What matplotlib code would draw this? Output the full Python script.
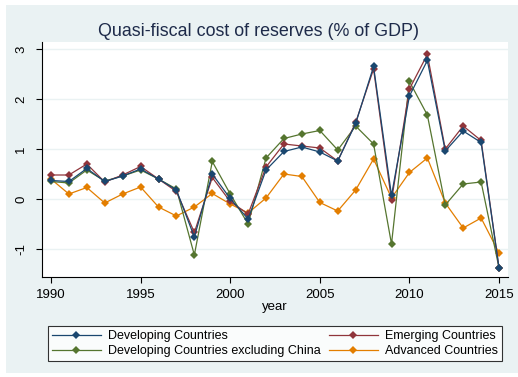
import matplotlib
matplotlib.use("Agg")
import matplotlib.pyplot as plt
from matplotlib.patches import Rectangle

# Data
years = list(range(1990, 2016))
developing = [0.38, 0.36, 0.62, 0.36, 0.47, 0.61, 0.41, 0.19, -0.75, 0.51, 0.02, -0.39,
              0.59, 0.96, 1.05, 0.95, 0.77, 1.52, 2.66, 0.08, 2.07, 2.78, 0.97, 1.37, 1.14, -1.37]
emerging = [0.49, 0.49, 0.71, 0.35, 0.49, 0.66, 0.41, 0.16, -0.66, 0.44, -0.04, -0.29,
            0.65, 1.11, 1.07, 1.03, 0.77, 1.54, 2.61, -0.02, 2.21, 2.90, 1.01, 1.47, 1.18, -1.37]
dev_ex_china = [0.36, 0.33, 0.59, 0.37, 0.47, 0.59, 0.41, 0.21, -1.11, 0.76, 0.11, -0.49,
                0.83, 1.22, 1.31, 1.38, 0.99, 1.47, 1.11, -0.89, 2.36, 1.69, -0.11, 0.31, 0.35, -1.37]
advanced = [0.41, 0.11, 0.24, -0.07, 0.11, 0.25, -0.15, -0.33, -0.15, 0.12, -0.09, -0.27,
            0.03, 0.51, 0.46, -0.06, -0.23, 0.19, 0.81, 0.03, 0.54, 0.83, -0.07, -0.57, -0.37, -1.07]

series_names = ["Developing Countries", "Emerging Countries",
                "Developing Countries excluding China", "Advanced Countries"]
series_colors = ["#1a476f", "#90353b", "#55752f", "#e37e00"]
x_ticks = [1990, 1995, 2000, 2005, 2010, 2015]
y_ticks = [-1, 0, 1, 2, 3]

plt.rcParams['font.family'] = ['Liberation Sans', 'DejaVu Sans']

W, H = 518, 377
bg = "#eaf2f3"
fig = plt.figure(figsize=(W/100, H/100), dpi=100, facecolor="white")
# graph region (thin white margin around it, like the reference)
fig.patches.append(Rectangle((6/W, 4/H), 1 - 6/W, 1 - 9/H, transform=fig.transFigure,
                             facecolor=bg, edgecolor="none", zorder=-10))

ax = fig.add_axes([42/W, 1 - 277/H, (508 - 42)/W, (277 - 42)/H])
ax.set_facecolor("white")

handles = []
for vals, name, col, z in zip([developing, emerging, dev_ex_china, advanced],
                              series_names, series_colors, [5, 4, 3, 2]):
    h, = ax.plot(years, vals, color=col, lw=0.9, marker="D", ms=3.6,
                 markeredgewidth=0, label=name, zorder=z)
    handles.append(h)

ax.set_xlim(1989.5, 2015.5)
ax.set_ylim(-1.55, 3.15)
ax.set_xticks(x_ticks)
ax.set_yticks(y_ticks)
ax.set_yticklabels([str(v) for v in y_ticks], rotation=90, va="center")
ax.tick_params(axis="both", labelsize=9.5, colors="black", length=4, width=0.8)
ax.tick_params(axis="x", pad=4.5)
ax.tick_params(axis="y", pad=6.5)
ax.grid(axis="y", color=bg, lw=1.0)
ax.set_axisbelow(True)
for s in ["top", "right"]:
    ax.spines[s].set_visible(False)
ax.spines["left"].set_linewidth(0.8)
ax.spines["bottom"].set_linewidth(0.8)

ax.set_xlabel("year", fontsize=9.5, labelpad=0)
fig.text(0.5, 1 - 35.5/H, "Quasi-fiscal cost of reserves (% of GDP)", ha="center",
         va="baseline", fontsize=12.9, color="#1e2b4a")

# legend: two columns, order as in the reference
order = [0, 2, 1, 3]
leg = fig.legend([handles[i] for i in order], [series_names[i] for i in order],
                 ncol=2, loc="lower left", mode="expand",
                 bbox_to_anchor=(48/W, 1 - 361/H, (502 - 48)/W, (361 - 320)/H),
                 fontsize=9, frameon=True, fancybox=False, edgecolor="black",
                 handlelength=3.9, numpoints=1, borderpad=0.3, labelspacing=0.25,
                 handletextpad=0.6, borderaxespad=0)
leg.get_frame().set_linewidth(0.8)
leg.get_frame().set_facecolor("white")

fig.savefig("out.png", dpi=100, facecolor="white")
